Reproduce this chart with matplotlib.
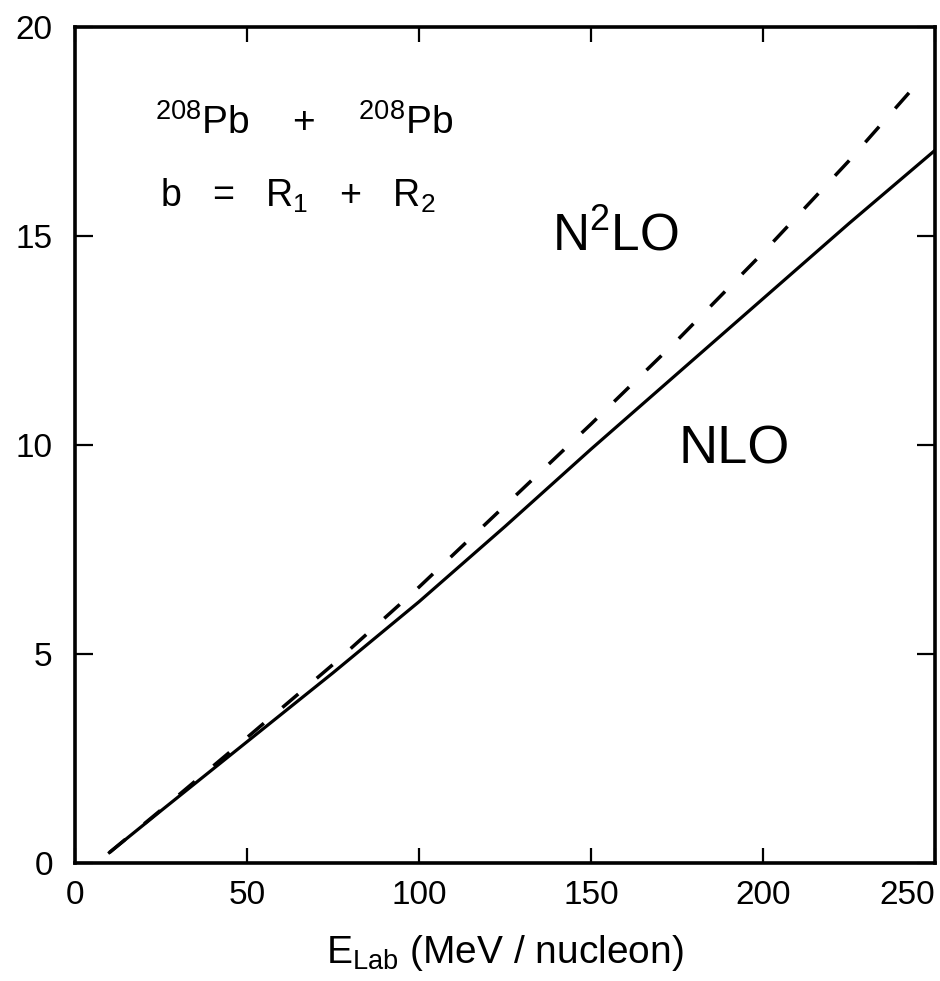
import matplotlib.pyplot as plt

plt.rcParams['font.family'] = ['Liberation Sans', 'DejaVu Sans']
plt.rcParams['mathtext.default'] = 'regular'

# energia de laboratorio (MeV/nucleon) y curvas NLO / N2LO
e_lab = [10, 25, 50, 75, 100, 125, 150, 175, 200, 225, 250]
nlo = [0.25, 1.25, 2.9, 4.55, 6.25, 8.05, 9.9, 11.7, 13.5, 15.3, 17.05]
e_lab2 = [10, 25, 50, 75, 100, 125, 150, 175, 200, 225, 247]
n2lo = [0.25, 1.27, 3.0, 4.75, 6.6, 8.55, 10.5, 12.5, 14.6, 16.8, 18.85]

xticks = [0, 50, 100, 150, 200, 250]
yticks = [0, 5, 10, 15, 20]

fig = plt.figure(figsize=(9.4, 9.81), dpi=100)
ax = fig.add_axes([0.0798, 0.1203, 0.9149, 0.8522])

ax.plot(e_lab, nlo, color='black', lw=2.3)
ax.plot(e_lab2, n2lo, color='black', lw=2.5, dashes=(6.0, 7.0))

ax.set_xlim(0, 250)
ax.set_ylim(0, 20)
ax.set_xticks(xticks)
ax.set_yticks(yticks)
ax.tick_params(axis='x', direction='in', length=11, width=1.6, top=True,
               labelsize=24, pad=12)
ax.tick_params(axis='y', direction='in', length=13, width=1.6, right=True,
               labelsize=24, pad=16)
# la ultima etiqueta queda pegada al borde derecho
ax.get_xticklabels()[-1].set_horizontalalignment('right')
for s in ax.spines.values():
    s.set_linewidth(2.6)

ax.set_xlabel('E$_{Lab}$ (MeV / nucleon)', fontsize=28, labelpad=16)

# reaccion y parametro de impacto
ax.text(23.2, 17.45, '$^{208}$Pb    +    $^{208}$Pb', fontsize=28)
ax.text(24.6, 15.7, 'b   =   R$_1$   +   R$_2$', fontsize=27)

ax.text(138.6, 14.98, 'N$^2$LO', fontsize=37, va='center')
ax.text(175.4, 9.9, 'NLO', fontsize=39, va='center')

fig.savefig('out.png', dpi=100)
